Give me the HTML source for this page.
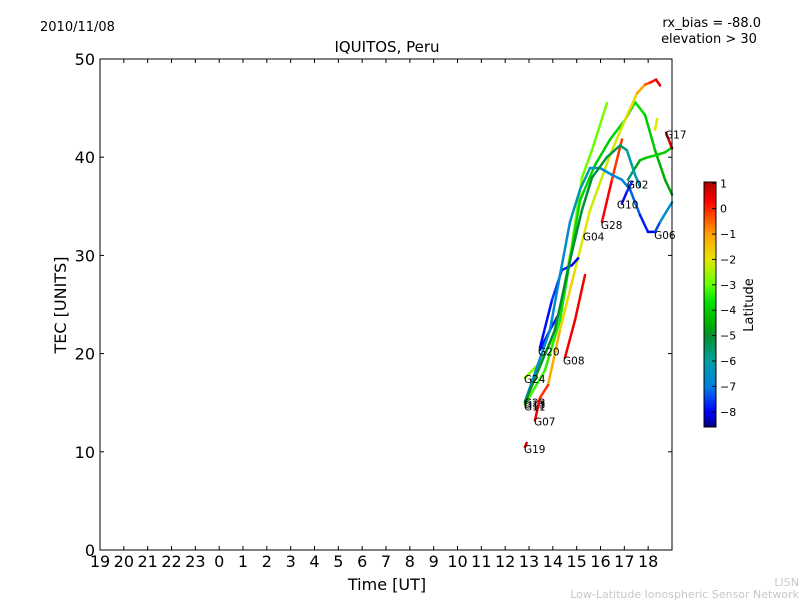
<!DOCTYPE html>
<html><head><meta charset="utf-8"><style>
body{margin:0;background:#fff;width:800px;height:600px;overflow:hidden;font-family:"Liberation Sans","DejaVu Sans",sans-serif}
</style></head><body>
<svg id="chart" width="800" height="600" xmlns="http://www.w3.org/2000/svg" font-family="DejaVu Sans, Liberation Sans, sans-serif">
<defs>
<linearGradient id="jet" x1="0" y1="1" x2="0" y2="0"></linearGradient>
</defs>
<text x="40" y="31" font-size="13">2010/11/08</text>
<text x="761" y="27" font-size="13" text-anchor="end">rx_bias = -88.0</text>
<text x="709" y="43" font-size="13" text-anchor="middle">elevation &gt; 30</text>
<text x="387" y="52" font-size="15" text-anchor="middle">IQUITOS, Peru</text>
<g id="plot"></g>
<rect x="100" y="59" width="572" height="491" fill="none" stroke="#000" stroke-width="1"/>
<g id="axes"></g>
<text x="387" y="590" font-size="16" text-anchor="middle">Time [UT]</text>
<text x="66" y="305" font-size="16" text-anchor="middle" transform="rotate(-90 66 305)">TEC [UNITS]</text>
<rect x="704" y="182" width="12" height="245" fill="url(#jet)" stroke="#000" stroke-width="1"/>
<g id="cbticks"></g>
<text x="753" y="305" font-size="13" text-anchor="middle" transform="rotate(-90 753 305)">Latitude</text>
<text x="799" y="586" font-size="11" fill="#c8c8c8" text-anchor="end">LISN</text>
<text x="799" y="598" font-size="11" fill="#c8c8c8" text-anchor="end">Low-Latitude Ionospheric Sensor Network</text>
</svg>
<script>
const xTickLabels=["19","20","21","22","23","0","1","2","3","4","5","6","7","8","9","10","11","12","13","14","15","16","17","18"];
const yTicks=[0,10,20,30,40,50];
const cbTicks=[1,0,-1,-2,-3,-4,-5,-6,-7,-8];
const trackNames=["A","B","C","D","E","F","G","H","I","J","K","L","M","N","O"];
const trackA=[[12.83,17.5,-2.8],[13.46,19.1,-2.6],[13.97,21.4,-2.5],[14.38,25.5,-2.5],[14.8,31.1,-2.6],[15.22,37.9,-2.8],[15.64,40.7,-3],[15.98,43.3,-2.9],[16.27,45.5,-2.7]];
const trackB=[[12.83,14.8,-3.2],[13.67,18.3,-3.3],[14.3,23.4,-3.5],[14.72,29.5,-3.7],[15.14,35.6,-3.8],[15.77,39.2,-4],[16.4,41.8,-4],[17.03,43.8,-3.8],[17.45,45.6,-3.6],[17.87,44.3,-3.8],[18.29,40.7,-4.3],[18.71,37.7,-4.6],[19.0,36.2,-4.8]];
const trackC=[[13.8,16.8,-0.8],[14.3,22.4,-1.5],[14.93,28.5,-2],[15.56,34.6,-2.2],[16.4,40.2,-2.2],[17.03,43.8,-2.1],[17.53,46.5,-1.5],[17.87,47.4,-0.6],[18.08,47.6,-0.2],[18.33,47.9,0.5],[18.5,47.3,0.6]];
const trackD=[[14.51,19.6,0.5],[14.93,23.4,0.4],[15.35,28.0,0.4]];
const trackE=[[16.06,33.4,0.4],[16.48,37.7,0.2],[16.9,41.8,-0.5]];
const trackF=[[13.46,20.4,-8],[13.88,22.4,-7.8],[14.22,23.9,-7.8]];
const trackG=[[13.46,20.6,-8.2],[13.97,25.5,-7.6],[14.38,28.5,-7.5],[14.8,29.0,-7.8],[15.06,29.7,-8.3]];
const trackH=[[12.83,15.1,-6.5],[13.88,22.4,-6.8],[14.3,28.0,-6.8],[14.72,33.4,-6.5],[15.14,36.7,-6.2],[15.56,38.9,-6],[15.98,38.9,-6.6],[16.48,38.2,-6.8],[16.9,37.7,-7],[17.24,36.7,-7],[17.66,34.1,-7.5],[17.99,32.4,-8],[18.29,32.4,-8.2],[18.5,33.4,-6.8],[19.0,35.4,-6.5]];
const trackI=[[12.83,15.0,-5],[14.09,22.4,-5],[14.72,29.5,-5],[15.22,34.6,-5],[15.64,37.9,-5],[16.27,40.0,-5.2],[16.82,41.2,-5.5],[17.11,40.7,-5.8],[17.45,38.2,-6.2],[17.66,37.0,-6.5]];
const trackJ=[[17.15,37.7,-6.5],[17.45,38.9,-5],[17.66,39.7,-4.3],[17.99,40.0,-4],[18.33,40.2,-4],[18.71,40.5,-4],[19.0,41.0,-4]];
const trackK=[[18.75,42.5,0.8],[19.0,40.9,0.6]];
const trackL=[[18.29,42.8,-2],[18.38,43.9,-2]];
const trackM=[[12.83,10.5,0.7],[12.9,10.9,0.7]];
const trackN=[[13.25,13.2,0.5],[13.46,15.5,0.3],[13.8,16.8,-0.5]];
const trackO=[[16.9,35.3,-8],[17.11,36.5,-7.8],[17.32,37.5,-7.5]];
const tracks=[trackA,trackB,trackC,trackD,trackE,trackF,trackG,trackH,trackI,trackJ,trackK,trackL,trackM,trackN,trackO];
const satLabels=["G17","G02","G10","G28","G04","G06","G20","G08","G24","G23","G13","G11","G07","G19"];
const satHours=[18.75,17.15,16.73,16.06,15.3,18.29,13.42,14.47,12.83,12.83,12.83,12.83,13.25,12.83];
const satTec=[42.3,37.2,35.2,33.1,31.9,32.1,20.2,19.3,17.4,15.0,14.8,14.6,13.1,10.3];

const cmapLat=[-8.6,-8,-7,-6,-5,-4.5,-3.7,-3,-2,-1,0.3,1.05];
const cmapCol=[[0,0,128],[0,0,255],[0,128,224],[0,160,160],[0,144,48],[0,176,0],[0,224,0],[96,255,0],[230,230,0],[255,160,0],[255,0,0],[176,0,0]];
const NS="http://www.w3.org/2000/svg";
const X0=100,X1=672,Y0=550,Y1=59;
function xs(h){let i=((h-19)%24+24)%24; if(h>=19&&h<19.001)i=24; return X0+i*(X1-X0)/24;}
function ys(v){return Y0-v*(Y0-Y1)/50;}
function cs(l){return 427-(l+8.6)/(9.65)*245;}
function jet(l){l=Math.max(cmapLat[0],Math.min(cmapLat[cmapLat.length-1],l));
 let k=0; while(k<cmapLat.length-2&&l>cmapLat[k+1])k++;
 const t=(l-cmapLat[k])/(cmapLat[k+1]-cmapLat[k]);
 const c=cmapCol[k].map((v,j)=>Math.round(v+(cmapCol[k+1][j]-v)*t));
 return `rgb(${c[0]},${c[1]},${c[2]})`;}
function mk(tag,attrs,parent){const e=document.createElementNS(NS,tag);for(const k in attrs)e.setAttribute(k,attrs[k]);parent.appendChild(e);return e;}
const grad=document.getElementById('jet');
cmapLat.forEach((l,i)=>{mk('stop',{offset:(l+8.6)/9.65,'stop-color':jet(l)},grad);});
const plot=document.getElementById('plot'),axes=document.getElementById('axes'),cb=document.getElementById('cbticks');
tracks.forEach((tr,ti)=>{
 const g=mk('g',{},plot);
 
 
 for(let i=0;i<tr.length-1;i++){
  const a=tr[i],b=tr[i+1];
  const s=mk('line',{x1:xs(a[0]),y1:ys(a[1]),x2:xs(b[0]),y2:ys(b[1]),stroke:jet((a[2]+b[2])/2),'stroke-width':2.5,'stroke-linecap':'round'},g);
  
  
 }
});
satLabels.forEach((s,i)=>{
 const t=mk('text',{x:xs(satHours[i])-1,y:ys(satTec[i])+4,'font-size':10.5},plot);
 
 
 t.textContent=s;
});
xTickLabels.forEach((lab,i)=>{
 const x=X0+i*(X1-X0)/24;
 mk('line',{x1:x,y1:Y0,x2:x,y2:Y0-4,stroke:'#000'},axes);
 mk('line',{x1:x,y1:Y1,x2:x,y2:Y1+4,stroke:'#000'},axes);
 const t=mk('text',{x:x,y:Y0+17,'font-size':16,'text-anchor':'middle'},axes);
 
 
 t.textContent=lab;
});
yTicks.forEach(v=>{
 const y=ys(v);
 mk('line',{x1:X0,y1:y,x2:X0+4,y2:y,stroke:'#000'},axes);
 mk('line',{x1:X1,y1:y,x2:X1-4,y2:y,stroke:'#000'},axes);
 const t=mk('text',{x:X0-5,y:y+6,'font-size':16,'text-anchor':'end'},axes);
 
 
 t.textContent=v;
});
cbTicks.forEach(v=>{
 const y=cs(v);
 mk('line',{x1:712,y1:y,x2:716,y2:y,stroke:'#000'},cb);
 const t=mk('text',{x:720,y:y+4,'font-size':11},cb);
 
 
 t.textContent=v<0?'\u2212'+(-v):String(v);
});
</script>
</body></html>
